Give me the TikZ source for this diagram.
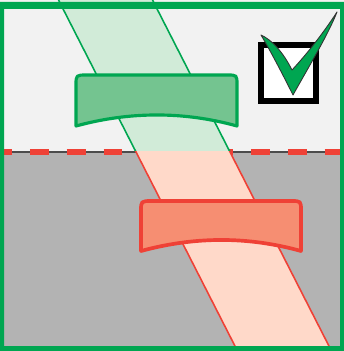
\documentclass[tikz,border=0pt]{standalone}
\usepackage{tikz}

\definecolor{frameGreen}{HTML}{00A651}
\definecolor{bandGreen}{HTML}{D1EBD8}
\definecolor{barGreen}{HTML}{74C490}
\definecolor{bandRed}{HTML}{FFD9C9}
\definecolor{barRed}{HTML}{F68E72}
\definecolor{lineRed}{HTML}{EF4136}
\definecolor{topGray}{HTML}{F2F2F2}
\definecolor{lowGray}{HTML}{B3B3B3}

\begin{document}
\begin{tikzpicture}[x=0.02cm, y=-0.02cm,
    bandedge/.style={line width=0.9pt},
    barshape/.style={line width=1.8pt, line join=round},
    redash/.style={lineRed, line width=3pt, dash pattern=on 10.77pt off 10.2pt, dash phase=3.97pt}]
    \useasboundingbox (0,0) rectangle (344,351);

    % the two halves
    \fill[topGray] (0,0) rectangle (344,152);
    \fill[lowGray] (0,152) rectangle (344,351);
    \draw[black!70, line width=0.6pt] (0,152) -- (344,152);
    \draw[redash] (0,152) -- (344,152);

    % band through the line
    \begin{scope}
        \clip (0,0) rectangle (344,152);
        \fill[bandGreen] (58.5,0) -- (152.5,0) -- (331.5,351) -- (237.5,351) -- cycle;
        \draw[bandedge, frameGreen] (58.5,0) -- (237.5,351) (152.5,0) -- (331.5,351);
    \end{scope}
    \begin{scope}
        \clip (0,152) rectangle (344,351);
        \fill[bandRed] (58.5,0) -- (152.5,0) -- (331.5,351) -- (237.5,351) -- cycle;
        \draw[bandedge, lineRed] (58.5,0) -- (237.5,351) (152.5,0) -- (331.5,351);
    \end{scope}

    % upper bar
    \draw[barshape, frameGreen, fill=barGreen]
        (76,126) -- (76,85) .. controls (76,75) .. (87,75) -- (227,75)
        .. controls (237,75) .. (237,85) -- (237,126)
        .. controls (184,111.3) and (130,111.3) .. (76,126) -- cycle;

    % lower bar
    \draw[barshape, lineRed, fill=barRed, line width=2.1pt]
        (141,251) -- (141,211) .. controls (141,201) .. (152,201) -- (291,201)
        .. controls (301,201) .. (301,211) -- (301,251)
        .. controls (248,236.3) and (195,236.3) .. (141,251) -- cycle;

    % check box
    \draw[line width=3.4pt, fill=white] (261,45) rectangle (316,101);
    \draw[fill=frameGreen, draw=black!80, line width=0.5pt, line join=round]
        (261,35) .. controls (272,40) and (283,52) .. (292,70)
        .. controls (307,54) and (324,32) .. (337,12)
        .. controls (328,35) and (308,68) .. (293,95)
        .. controls (283,75) and (270,50) .. (261,35) -- cycle;

    % frame
    \fill[frameGreen, even odd rule] (0,2) rectangle (344,351) (4,9) rectangle (340,346);
\end{tikzpicture}
\end{document}
